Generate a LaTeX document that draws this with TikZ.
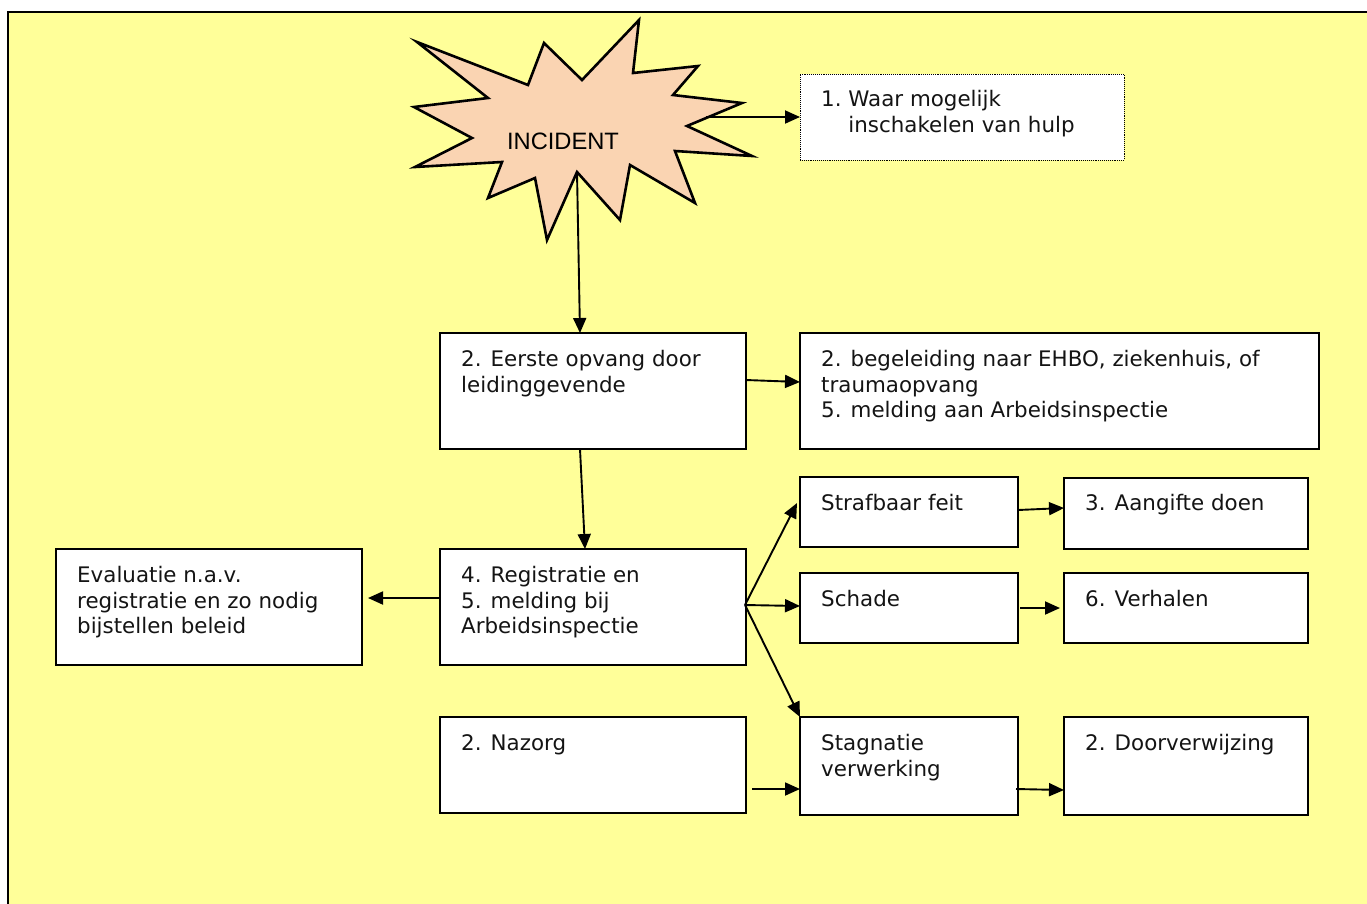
\documentclass[tikz,border=0pt]{standalone}
\usepackage{fontspec}
\setmainfont{DejaVu Sans}
\newfontfamily\arialfont{Liberation Sans}
\usetikzlibrary{arrows.meta,calc}
\definecolor{bgyellow}{RGB}{255,255,153}
\definecolor{peach}{RGB}{250,212,178}
\newcommand\boxfont{\fontsize{21.4}{25.6}\selectfont}
\begin{document}
\begin{tikzpicture}[x=1pt,y=-1pt,
  box/.style={draw=black, line width=2.2pt, fill=white, anchor=north west, inner sep=0pt, outer sep=0pt},
  dotbox/.style={draw=black, line width=0.9pt, densely dotted, fill=white, anchor=north west, inner sep=0pt, outer sep=0pt},
  txt/.style={anchor=north west, inner sep=0pt, align=left, font=\boxfont, text=black!92},
  arr/.style={-{Triangle[length=15pt,width=13pt]}, line width=1.9pt},
  star/.style={draw=black, line width=2.6pt, fill=peach, line join=miter}]
\useasboundingbox (0,0) rectangle (1367,903);
\clip (0,0) rectangle (1367,903);
% background frame
\fill[bgyellow] (8,12) rectangle (1380,915);
\draw[line width=2.8pt] (8,915) -- (8,12) -- (1380,12);

% starburst
\draw[star] (417,42) -- (528,85) -- (544,43) -- (582,80) -- (639,20) -- (633,73)
  -- (698,66) -- (673,95) -- (742,103) -- (687,126) -- (752,156) -- (675,151)
  -- (695,203) -- (630,165) -- (620,220) -- (577,172) -- (547,240) -- (535,178)
  -- (488,198) -- (502,162) -- (415,167) -- (472,138) -- (414,107) -- (488,98) -- cycle;
\node[font=\arialfont\fontsize{23.7}{28}\selectfont, inner sep=0pt] (incident) at (563,141) {INCIDENT};
\coordinate (starR) at (706,117);
\coordinate (starB) at (577,172);

% boxes
\node[dotbox, minimum width=324pt, minimum height=86pt] (hulp) at (800,74) {};
\node[box, minimum width=306pt, minimum height=116pt] (eerste) at (440,333) {};
\node[box, minimum width=519pt, minimum height=116pt] (begel) at (800,333) {};
\node[box, minimum width=218pt, minimum height=70pt] (straf) at (800,477) {};
\node[box, minimum width=244pt, minimum height=71pt] (aang) at (1064,478) {};
\node[box, minimum width=306pt, minimum height=116pt] (evalu) at (56,549) {};
\node[box, minimum width=306pt, minimum height=116pt] (regis) at (440,549) {};
\node[box, minimum width=218pt, minimum height=70pt] (schade) at (800,573) {};
\node[box, minimum width=244pt, minimum height=70pt] (verh) at (1064,573) {};
\node[box, minimum width=306pt, minimum height=96pt] (nazorg) at (440,717) {};
\node[box, minimum width=218pt, minimum height=98pt] (stag) at (800,717) {};
\node[box, minimum width=244pt, minimum height=98pt] (door) at (1064,717) {};

% texts
\node[txt] (thulp) at ($(hulp.north west)+(21,16)$) {1.~Waar mogelijk\\\phantom{1.~}inschakelen van hulp};
\node[txt] (teerste) at ($(eerste.north west)+(21,17)$) {2. Eerste opvang door\\leidinggevende};
\node[txt] (tbegel) at ($(begel.north west)+(21,17)$) {2. begeleiding naar EHBO, ziekenhuis, of\\traumaopvang\\5. melding aan Arbeidsinspectie};
\node[txt] (tstraf) at ($(straf.north west)+(21,17)$) {Strafbaar feit};
\node[txt] (taang) at ($(aang.north west)+(21,16)$) {3. Aangifte doen};
\node[txt] (tevalu) at ($(evalu.north west)+(21,17)$) {Evaluatie n.a.v.\\registratie en zo nodig\\bijstellen beleid};
\node[txt] (tregis) at ($(regis.north west)+(21,17)$) {4. Registratie en\\5. melding bij\\Arbeidsinspectie};
\node[txt] (tschade) at ($(schade.north west)+(21,17)$) {Schade};
\node[txt] (tverh) at ($(verh.north west)+(21,17)$) {6. Verhalen};
\node[txt] (tnazorg) at ($(nazorg.north west)+(21,17)$) {2. Nazorg};
\node[txt] (tstag) at ($(stag.north west)+(21,17)$) {Stagnatie\\verwerking};
\node[txt] (tdoor) at ($(door.north west)+(21,17)$) {2. Doorverwijzing};

% connectors
\draw[arr] (starR) -- (hulp.west);
\draw[arr] (starB) -- ($(eerste.north west)+(140,0)$);
\draw[arr] ($(eerste.south west)+(140,0)$) -- ($(regis.north west)+(145,0)$);
\draw[arr] ($(eerste.north east)+(0,47)$) -- ($(begel.north west)+(0,49)$);
\draw[arr] ($(regis.north west)+(0,49)$) -- ($(evalu.north east)+(6,49)$);
\coordinate (fan) at ($(regis.north east)+(-1,56)$);
\draw[arr] (fan) -- ($(straf.north west)+(-3,26)$);
\draw[arr] (fan) -- ($(schade.west)+(0,-2)$);
\draw[arr] (fan) -- (stag.north west);
\draw[arr] ($(straf.north east)+(0,33)$) -- ($(aang.north west)+(0,30)$);
\draw[arr] ($(schade.east)+(2,0)$) -- ($(verh.west)+(-4,0)$);
\draw[arr] ($(nazorg.north east)+(6,72)$) -- ($(stag.north west)+(0,72)$);
\draw[arr] ($(stag.north east)+(-2,72)$) -- ($(door.north west)+(0,73)$);
\end{tikzpicture}
\end{document}
